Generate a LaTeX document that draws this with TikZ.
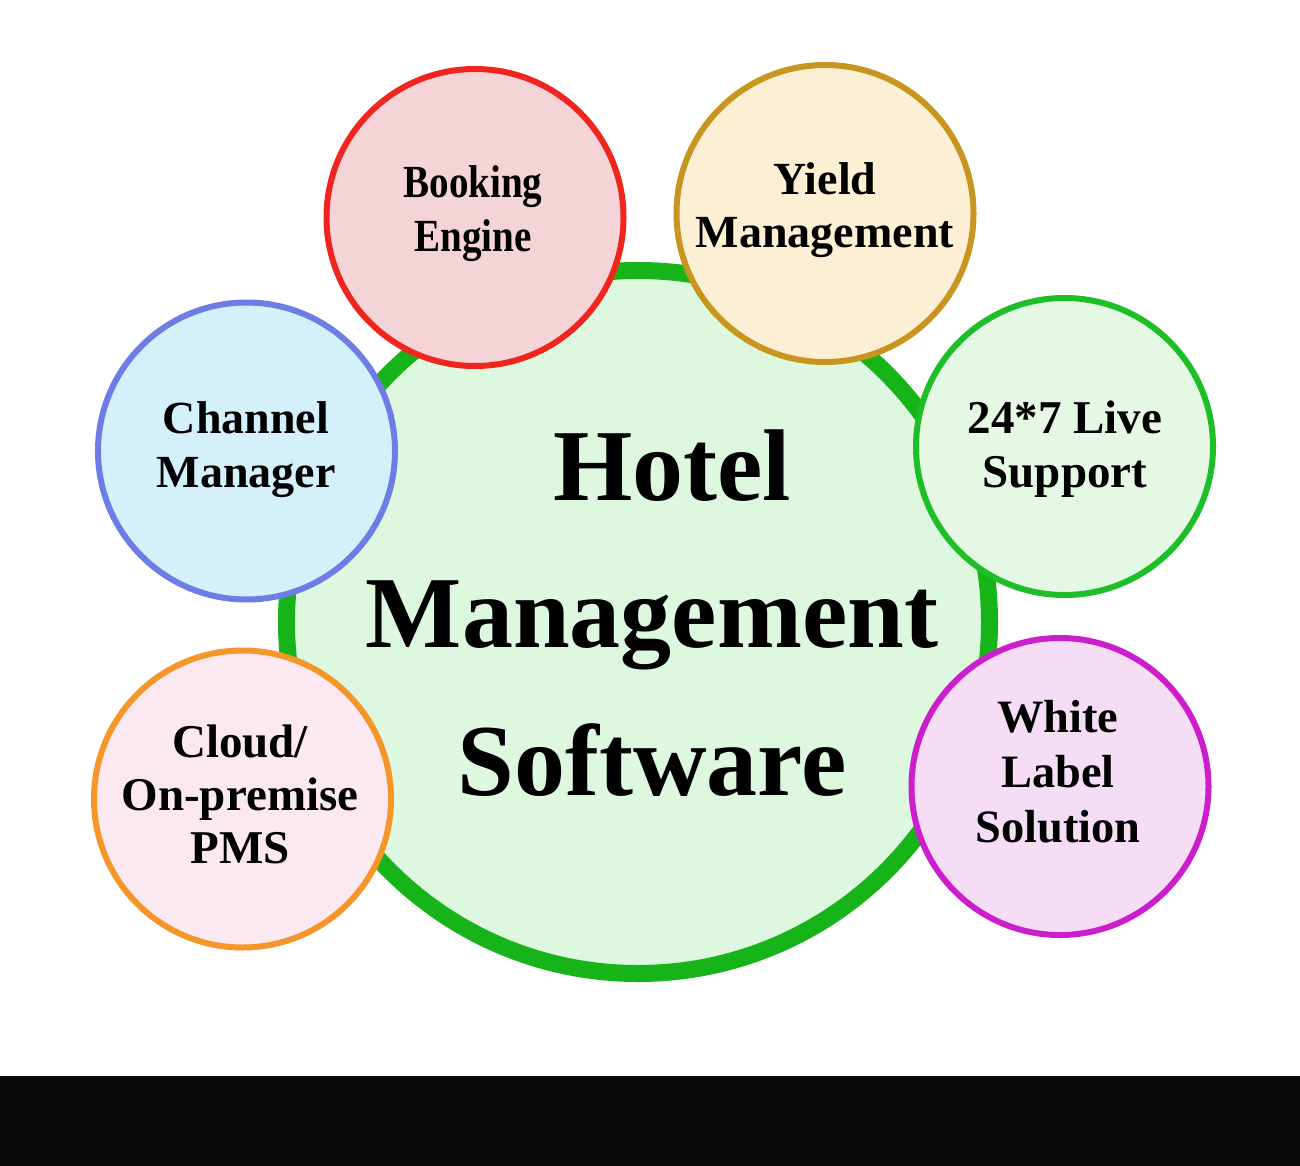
\documentclass[tikz,border=0pt]{standalone}
\usepackage{graphicx}
\usepackage{fontspec}
\setmainfont{Liberation Serif}
\begin{document}
\begin{tikzpicture}[x=0.5pt,y=-0.5pt,
  bub/.style={circle,minimum size=148.5pt,inner sep=0pt,line width=3pt},
  lbl/.style={anchor=base,inner sep=0pt,text=black},
  hub/.style={circle,minimum size=351.5pt,inner sep=0pt,line width=8.5pt}]
% colours
\definecolor{hubline}{RGB}{22,180,24}
\definecolor{hubfill}{RGB}{221,248,222}
\definecolor{redline}{RGB}{240,38,30}
\definecolor{redfill}{RGB}{245,212,216}
\definecolor{goldline}{RGB}{200,150,32}
\definecolor{goldfill}{RGB}{252,239,212}
\definecolor{blueline}{RGB}{110,124,230}
\definecolor{bluefill}{RGB}{212,240,250}
\definecolor{grnline}{RGB}{30,190,40}
\definecolor{grnfill}{RGB}{228,248,228}
\definecolor{orgline}{RGB}{245,150,42}
\definecolor{orgfill}{RGB}{251,232,240}
\definecolor{magline}{RGB}{204,30,204}
\definecolor{magfill}{RGB}{245,222,245}
% page
\useasboundingbox (0,0) rectangle (1300,1166);
\fill[white] (0,0) rectangle (1300,1166);
\fill[black!96] (0,1076) rectangle (1300,1166);
% central circle
\node[hub,draw=hubline,fill=hubfill] (hub) at (638,622) {};
% surrounding circles
\node[bub,draw=redline,fill=redfill] (book) at (475,217.5) {};
\node[bub,draw=goldline,fill=goldfill] (yield) at (825,213.5) {};
\node[bub,draw=blueline,fill=bluefill] (chan) at (246.5,451) {};
\node[bub,draw=grnline,fill=grnfill] (live) at (1064.5,446.5) {};
\node[bub,draw=orgline,fill=orgfill] (cloud) at (242.5,799) {};
\node[bub,draw=magline,fill=magfill] (white) at (1060,786.5) {};
% labels
\node[lbl,font=\fontsize{51pt}{73.75pt}\selectfont\bfseries] (hubT) at (652,500)
  {\begin{tabular}[t]{@{}c@{}}\hspace*{20pt}Hotel\\Management\\Software\end{tabular}};
\node[lbl,font=\fontsize{23pt}{27pt}\selectfont\bfseries] (bookT) at (473,198)
  {\scalebox{0.85}[1]{\begin{tabular}[t]{@{}c@{}}Booking\\Engine\end{tabular}}};
\node[lbl,font=\fontsize{23pt}{26.5pt}\selectfont\bfseries] (yieldT) at (825,195)
  {\begin{tabular}[t]{@{}c@{}}Yield\\Management\end{tabular}};
\node[lbl,font=\fontsize{23pt}{27pt}\selectfont\bfseries] (chanT) at (246,433)
  {\begin{tabular}[t]{@{}c@{}}Channel\\Manager\end{tabular}};
\node[lbl,font=\fontsize{23.5pt}{27pt}\selectfont\bfseries] (liveT) at (1065,433)
  {\begin{tabular}[t]{@{}c@{}}24*7 Live\\Support\end{tabular}};
\node[lbl,font=\fontsize{23.5pt}{26.5pt}\selectfont\bfseries] (cloudT) at (240,757)
  {\begin{tabular}[t]{@{}c@{}}Cloud/\\On-premise\\PMS\end{tabular}};
\node[lbl,font=\fontsize{23.2pt}{27.5pt}\selectfont\bfseries] (whiteT) at (1058,732)
  {\begin{tabular}[t]{@{}c@{}}White\\Label\\Solution\end{tabular}};
\end{tikzpicture}
\end{document}
